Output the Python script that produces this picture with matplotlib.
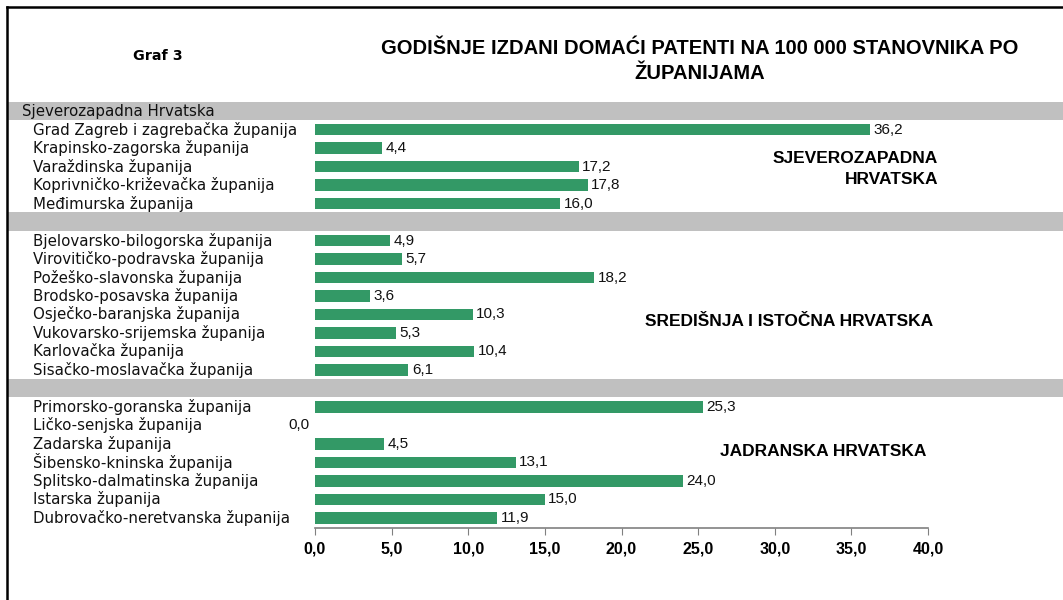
import matplotlib
matplotlib.use("Agg")
import matplotlib.pyplot as plt
from matplotlib.transforms import blended_transform_factory
from matplotlib.patches import Rectangle
from matplotlib.lines import Line2D

title = "GODIŠNJE IZDANI DOMAĆI PATENTI NA 100 000 STANOVNIKA PO\nŽUPANIJAMA"
region_names = ["Sjeverozapadna Hrvatska", "", ""]
region_labels = ["SJEVEROZAPADNA\nHRVATSKA", "SREDIŠNJA I ISTOČNA HRVATSKA", "JADRANSKA HRVATSKA"]
groups = [
    ["Grad Zagreb i zagrebačka županija", "Krapinsko-zagorska županija",
     "Varaždinska županija", "Koprivničko-križevačka županija", "Međimurska županija"],
    ["Bjelovarsko-bilogorska županija", "Virovitičko-podravska županija",
     "Požeško-slavonska županija", "Brodsko-posavska županija", "Osječko-baranjska županija",
     "Vukovarsko-srijemska županija", "Karlovačka županija", "Sisačko-moslavačka županija"],
    ["Primorsko-goranska županija", "Ličko-senjska županija", "Zadarska županija",
     "Šibensko-kninska županija", "Splitsko-dalmatinska županija", "Istarska županija",
     "Dubrovačko-neretvanska županija"],
]
values = [
    [36.2, 4.4, 17.2, 17.8, 16.0],
    [4.9, 5.7, 18.2, 3.6, 10.3, 5.3, 10.4, 6.1],
    [25.3, 0.0, 4.5, 13.1, 24.0, 15.0, 11.9],
]
xticks = [0, 5, 10, 15, 20, 25, 30, 35, 40]

W, H = 1063, 600
fig = plt.figure(figsize=(W / 100, H / 100), dpi=100)
# axes: x from 315 to 928 px, y from 101 to 528 px
ax = fig.add_axes([315 / W, 1 - 528 / H, (928 - 315) / W, (528 - 101) / H])
ax.set_xlim(0, 40)
ax.set_ylim(22.55, -0.55)

figx = blended_transform_factory(fig.transFigure, ax.transData)
bar_color = "#339966"
band_color = "#c0c0c0"
txt_color = "#111111"

slot = 0
for gi, (names, vals) in enumerate(zip(groups, values)):
    ax.add_patch(Rectangle((7 / W, slot - 0.52), 1 - 7 / W, 1.0, transform=figx,
                           facecolor=band_color, edgecolor="none", clip_on=False, zorder=0))
    if region_names[gi]:
        ax.text(22 / W, slot, region_names[gi], transform=figx, ha="left", va="center",
                fontsize=10.8, family="DejaVu Sans", color=txt_color)
    slot += 1
    for name, v in zip(names, vals):
        ax.barh(slot, v, height=0.62, color=bar_color, zorder=2)
        ax.text(33 / W, slot, name, transform=figx, ha="left", va="center",
                fontsize=10.8, family="DejaVu Sans", color=txt_color)
        lab = f"{v:.1f}".replace(".", ",")
        if v > 0:
            ax.annotate(lab, (v, slot), xytext=(2.5, 0), textcoords="offset points",
                        ha="left", va="center", fontsize=11, family="Liberation Sans",
                        color=txt_color)
        else:
            ax.annotate(lab, (v, slot), xytext=(-4, 0), textcoords="offset points",
                        ha="right", va="center", fontsize=11, family="Liberation Sans",
                        color=txt_color)
        slot += 1

for s in ["left", "right", "top"]:
    ax.spines[s].set_visible(False)
ax.spines["bottom"].set_color("#808080")
ax.spines["bottom"].set_linewidth(1.2)
ax.set_yticks([])
ax.set_xticks(xticks)
ax.set_xticklabels([f"{t:.1f}".replace(".", ",") for t in xticks],
                   fontsize=11.5, fontweight="bold", family="Liberation Sans")
ax.tick_params(axis="x", direction="out", length=5, color="#808080", pad=5)
ax.set_facecolor("none")

# region labels
fig.text(938 / W, 1 - 169 / H, region_labels[0], ha="right", va="center", fontsize=12.5,
         fontweight="bold", family="Liberation Sans", linespacing=1.45)
fig.text(933 / W, 1 - 322 / H, region_labels[1], ha="right", va="center", fontsize=12.5,
         fontweight="bold", family="Liberation Sans")
fig.text(926 / W, 1 - 452 / H, region_labels[2], ha="right", va="center", fontsize=12.5,
         fontweight="bold", family="Liberation Sans")

# title and "Graf 3"
fig.text(700 / W, 1 - 61 / H, title, ha="center", va="center", fontsize=14.5,
         fontweight="bold", family="Liberation Sans", linespacing=1.35)
fig.text(158 / W, 1 - 56 / H, "Graf 3", ha="center", va="center", fontsize=10.3,
         fontweight="bold", family="DejaVu Sans")

# frame
fig.add_artist(Line2D([7 / W, 7 / W], [0, 1 - 7 / H], transform=fig.transFigure,
                      color="black", linewidth=1.8))
fig.add_artist(Line2D([7 / W, 1], [1 - 7 / H, 1 - 7 / H], transform=fig.transFigure,
                      color="black", linewidth=1.8))

fig.savefig("out.png", dpi=100)
